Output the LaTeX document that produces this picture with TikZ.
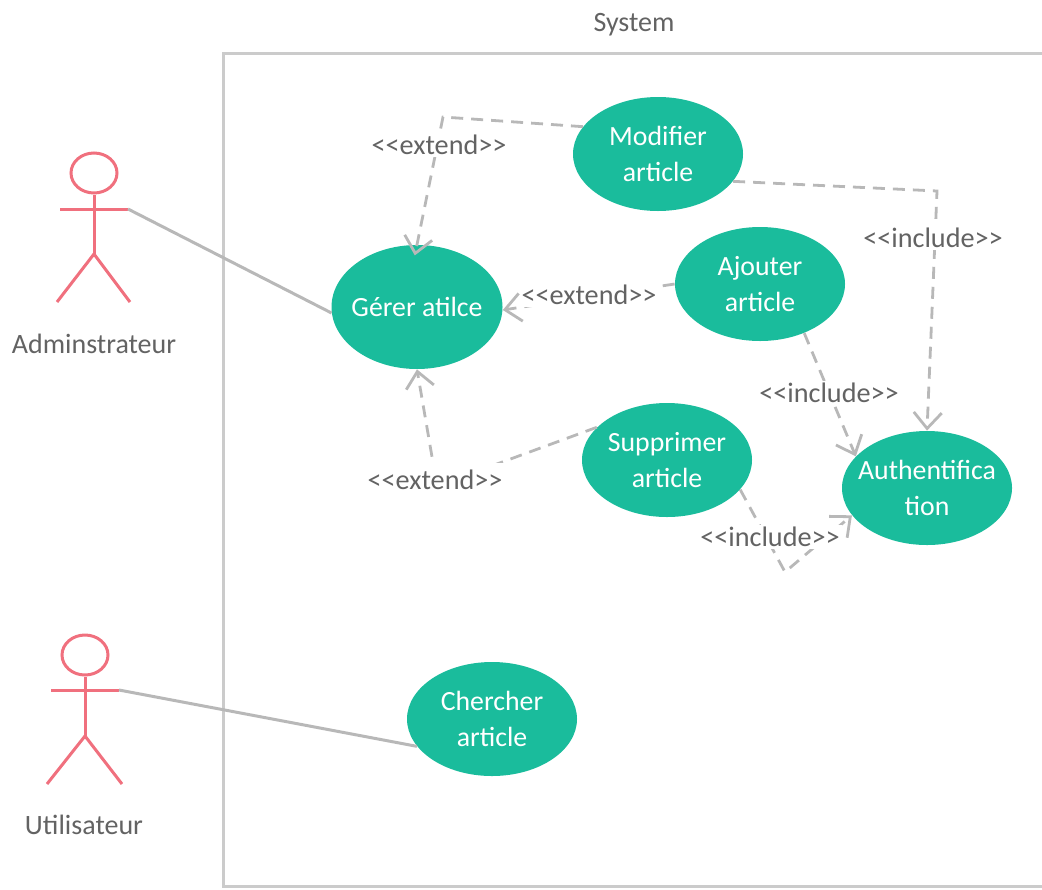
\documentclass[tikz,border=0pt]{standalone}
\usepackage{fontspec}
\setmainfont{Carlito}
\usetikzlibrary{arrows.meta,shapes.geometric}
\definecolor{usecasegreen}{HTML}{1ABC9C}
\definecolor{actorred}{HTML}{F0707E}
\definecolor{linegray}{HTML}{B8B8B8}
\definecolor{framegray}{HTML}{CBCBCB}
\definecolor{textgray}{HTML}{636363}
\tikzset{
	usecase/.style={ellipse,fill=usecasegreen,text=white,inner sep=-6pt,
		minimum width=85pt,minimum height=57pt,align=center,
		font=\fontsize{13.9}{17.6}\selectfont},
	actor/.style={draw=actorred,line width=1.5pt},
	head/.style={draw=actorred,line width=1.5pt,ellipse,inner sep=0pt,
		minimum width=23pt,minimum height=20pt},
	assoc/.style={draw=linegray,line width=1.5pt},
	relation/.style={draw=linegray,line width=1.4pt,dash pattern=on 6pt off 4pt,
		-{Straight Barb[length=8pt,width=14pt,line width=1.4pt]}},
	stereotype/.style={fill=white,text=textgray,inner sep=1pt,
		font=\fontsize{14.1}{16}\selectfont},
	caption/.style={text=textgray,inner sep=0pt,font=\fontsize{14}{16}\selectfont}
}
\begin{document}
\begin{tikzpicture}[x=0.5pt,y=-0.5pt]
\useasboundingbox (0,0) rectangle (1042,889);
%System
	\draw[draw=framegray,line width=1.5pt] (1050,53) -- (223,53) -- (223,886) -- (1050,886);
	\node (system) [caption] at (634,25) {System};
%Use cases
	\node (gerer) [usecase,minimum width=85.5pt,minimum height=62pt] at (417,307) {Gérer atilce};
	\node (modifier) [usecase] at (658,154) {Modifier\\article};
	\node (ajouter) [usecase] at (760,284) {Ajouter\\article};
	\node (supprimer) [usecase] at (667,460) {Supprimer\\article};
	\node (auth) [usecase] at (927,488) {Authentifica\\tion};
	\node (chercher) [usecase] at (492,719) {Chercher\\article};
%Administrateur
	\node (adminHead) [head] at (94,173) {};
	\coordinate (adminHip) at (94,254);
	\coordinate (adminHand) at (128,209);
	\draw[actor] (adminHead) -- (adminHip);
	\draw[actor] (60,209) -- (adminHand);
	\draw[actor] (57,302) -- (adminHip) -- (130,302);
	\node (adminLabel) [caption] at (94,344) {Adminstrateur};
%Utilisateur
	\node (userHead) [head] at (85,655) {};
	\coordinate (userHip) at (85,736);
	\coordinate (userHand) at (119,690);
	\draw[actor] (userHead) -- (userHip);
	\draw[actor] (51,690) -- (userHand);
	\draw[actor] (47,784) -- (userHip) -- (122,784);
	\node (userLabel) [caption] at (84,825) {Utilisateur};
%Associations
	\draw[assoc] (adminHand) -- (gerer.184);
	\draw[assoc] (userHand) -- (chercher.200);
%Extend
	\coordinate (bendExtendA) at (443,117);
	\coordinate (bendExtendC) at (437,486);
	\draw[relation,shorten >=-5.5pt] (modifier.160) -- (bendExtendA) -- (gerer.north);
	\draw[relation] (ajouter.west) -- (gerer.-2);
	\draw[relation] (supprimer.155) -- (bendExtendC) -- (gerer.south);
	\node (extendA) [stereotype] at (439,145) {<{}<extend>{}>};
	\node (extendB) [stereotype] at (589,295) {<{}<extend>{}>};
	\node (extendC) [stereotype,minimum height=17pt] at (435,480) {<{}<extend>{}>};
%Include
	\coordinate (bendIncludeA) at (937,191);
	\coordinate (bendIncludeB) at (785,572);
	\draw[relation] (modifier.-20) -- (bendIncludeA) -- (auth.north);
	\draw[relation] (ajouter.-48) -- (auth.156);
	\draw[relation] (supprimer.-22) -- (bendIncludeB) -- (auth.200);
	\node (includeA) [stereotype] at (933,238) {<{}<include>{}>};
	\node (includeB) [stereotype] at (829,393) {<{}<include>{}>};
	\node (includeC) [stereotype] at (770,537) {<{}<include>{}>};
\end{tikzpicture}
\end{document}
